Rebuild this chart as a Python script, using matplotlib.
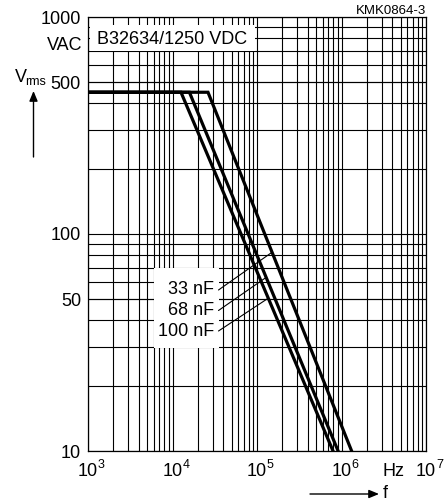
import numpy as np
import matplotlib
matplotlib.use("Agg")
import matplotlib.pyplot as plt
from matplotlib.patches import Rectangle, FancyArrowPatch

plt.rcParams['font.family'] = ['Liberation Sans', 'DejaVu Sans']
plt.rcParams['mathtext.fontset'] = 'custom'
plt.rcParams['mathtext.rm'] = 'Liberation Sans'

# ---- data ----
labels = ["33 nF", "68 nF", "100 nF"]
freq_33 = [1e3, 26300, 1.318e6]
freq_68 = [1e3, 15850, 9.12e5]
freq_100 = [1e3, 12600, 7.94e5]
volt = [450, 450, 10]
label_targets = [82.4, 63.1, 50.6]   # voltage where each leader line meets its curve
ytick_vals = [10, 50, 100, 500, 1000]
xtick_exps = [3, 4, 5, 6, 7]

FS = 13
W, H = 448, 504
fig = plt.figure(figsize=(W / 100, H / 100), dpi=100)
ax = fig.add_axes([88 / W, 1 - 451 / H, (426 - 88) / W, (451 - 17) / H])
ax.set_xscale('log')
ax.set_yscale('log')
ax.set_xlim(1e3, 1e7)
ax.set_ylim(10, 1000)

ax.set_axisbelow(True)
ax.grid(which='major', color='black', lw=0.8)
for s in ax.spines.values():
    s.set_color('black')
    s.set_linewidth(0.9)
ax.tick_params(which='both', length=0)

ax.set_yticks(ytick_vals)
ax.set_yticks([], minor=True)
ax.set_yticklabels([str(v) for v in ytick_vals], fontsize=FS)
ax.tick_params(axis='y', pad=5)
ax.set_xticks([10.0 ** e for e in xtick_exps])
ax.set_xticks([], minor=True)
ax.set_xticklabels([])
for dec in range(3, 7):
    for m in range(2, 10):
        ax.axvline(m * 10.0 ** dec, color='black', lw=0.8, zorder=0.5)
for dec in range(1, 3):
    for m in range(2, 10):
        ax.axhline(m * 10.0 ** dec, color='black', lw=0.8, zorder=0.5)

def fp(x, y):
    return (x / W, 1 - y / H)

# white boxes
ax.add_patch(Rectangle(fp(90, 50.5), 165 / W, 25.5 / H, transform=fig.transFigure,
                       facecolor='white', edgecolor='none', zorder=1))
ax.add_patch(Rectangle(fp(154, 348), 65 / W, 80 / H, transform=fig.transFigure,
                       facecolor='white', edgecolor='none', zorder=1))

# curves
curves = [freq_33, freq_68, freq_100]
for f in curves:
    ax.plot(f, volt, color='black', lw=2.3, solid_joinstyle='miter', zorder=3)

# labels with leader lines
label_y = [290, 310.5, 331]
for lab, f, vt, ly in zip(labels, curves, label_targets, label_y):
    lf = np.log10(f)
    lv = np.log10(volt)
    xt = 10 ** np.interp(np.log10(vt), lv[::-1][:2], lf[::-1][:2])
    fig.text(*fp(214, ly), lab, fontsize=FS, ha='right', va='center')
    ax.annotate('', xy=(xt, vt), xycoords='data', xytext=fp(218.5, ly),
                textcoords='figure fraction',
                arrowprops=dict(arrowstyle='-', lw=0.8, color='black',
                                shrinkA=0, shrinkB=0), zorder=2)

fig.text(*fp(97, 39), "B32634/1250 VDC", fontsize=FS, ha='left', va='center')

# x tick labels: "10" centred with superscript
for e in xtick_exps:
    xpix = 88 + (e - 3) * (426 - 88) / 4
    fig.text(*fp(xpix, 475.5), "10", fontsize=FS, ha='center', va='baseline')
    fig.text(*fp(xpix + 10, 467.5), str(e), fontsize=9, ha='left', va='baseline')
fig.text(*fp(393.5, 475.5), "Hz", fontsize=FS, ha='center', va='baseline')

# y axis annotations
fig.text(*fp(82, 45), "VAC", fontsize=FS, ha='right', va='center')
fig.text(*fp(15, 82), "V", fontsize=FS, ha='left', va='baseline')
fig.text(*fp(25.5, 85), "rms", fontsize=9, ha='left', va='baseline')
fig.text(*fp(426, 11), "KMK0864-3", fontsize=9.5, ha='right', va='center')

# arrows
fig.add_artist(FancyArrowPatch(
    fp(33.5, 157), fp(33.5, 91), transform=fig.transFigure,
    arrowstyle='-|>,head_length=6,head_width=2.5', lw=1, color='black',
    shrinkA=0, shrinkB=0))
fig.add_artist(FancyArrowPatch(
    fp(310, 494), fp(379, 494), transform=fig.transFigure,
    arrowstyle='-|>,head_length=6,head_width=2.5', lw=1, color='black',
    shrinkA=0, shrinkB=0))
fig.text(*fp(383, 494), "f", fontsize=FS, ha='left', va='center')

fig.savefig("out.png", dpi=100)
